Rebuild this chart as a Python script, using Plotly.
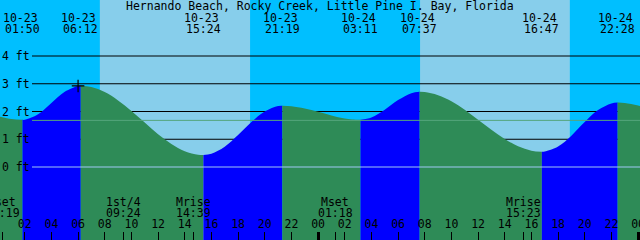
import plotly.graph_objects as go

# ---------------- data ----------------
station = "Hernando Beach, Rocky Creek, Little Pine I. Bay, Florida"

curve_hours = list(range(0, 50))
curve_ft = [1.83, 1.73, 1.70, 1.90, 2.31, 2.71, 2.92, 2.88, 2.70, 2.40,
            2.02, 1.60, 1.18, 0.83, 0.57, 0.44, 0.48, 0.73, 1.15, 1.62,
            2.00, 2.20, 2.19, 2.11, 1.99, 1.86, 1.75, 1.70, 1.78, 2.06,
            2.41, 2.66, 2.70, 2.59, 2.37, 2.06, 1.70, 1.34, 1.01, 0.75,
            0.59, 0.56, 0.74, 1.13, 1.62, 2.05, 2.29, 2.31, 2.22, 2.07]

# high / low tides
tide_dates = ["10-23", "10-23", "10-23", "10-23", "10-24", "10-24", "10-24", "10-24"]
tide_times = ["01:50", "06:12", "15:24", "21:19", "03:11", "07:37", "16:47", "22:28"]
tide_ft = [1.70, 2.93, 0.43, 2.21, 1.70, 2.71, 0.55, 2.32]

# sun
sunrise_dates = ["10-23", "10-24"]
sunrise_times = ["07:38", "07:39"]
sunset_dates = ["10-23", "10-24"]
sunset_times = ["18:54", "18:53"]

# moon events
moon_labels = ["Mset", "1st/4", "Mrise", "Mset", "Mrise"]
moon_dates = ["10-23", "10-23", "10-23", "10-24", "10-24"]
moon_times = ["00:19", "09:24", "14:39", "01:18", "15:23"]

# mean sea level, depth lines and marker
msl_ft = 1.68
level_ft = [0, 1, 2, 3, 4]
level_labels = ["0 ft", "1 ft", "2 ft", "3 ft", "4 ft"]
mark_date, mark_time, mark_ft = "10-23", "06:00", 2.92

hour_ticks = list(range(0, 49, 2))
hour_labels = ["%02d" % (h % 24) for h in hour_ticks]
day_ticks = [0, 24, 48]


def to_hours(date, hm):
    day = int(date.split("-")[1]) - 23
    hh, mm = hm.split(":")
    return day * 24 + int(hh) + int(mm) / 60.0


tide_h = [to_hours(d, t) for d, t in zip(tide_dates, tide_times)]
moon_h = [to_hours(d, t) for d, t in zip(moon_dates, moon_times)]
rise_h = [to_hours(d, t) for d, t in zip(sunrise_dates, sunrise_times)]
set_h = [to_hours(d, t) for d, t in zip(sunset_dates, sunset_times)]
mark_h = to_hours(mark_date, mark_time)

# ---------------- style ----------------
FONT = dict(family="DejaVu Sans Mono", size=11.5, color="black")
NIGHT = "#00BFFF"
DAY = "#87CEEB"
FLOOD = "#0000FF"
EBB = "#2E8B57"
X0 = 0.145
XR = [X0, X0 + 48]
PXFT = 27.75
YR = [-(240 - 167) / PXFT, 167 / PXFT]
YBOT = YR[0] - 0.5

fig = go.Figure()

# merge hourly readings with the extremes
pts = sorted(list(zip(curve_hours, curve_ft)) + list(zip(tide_h, tide_ft)))
bounds = [curve_hours[0]] + tide_h + [curve_hours[-1]]
for a, b in zip(bounds[:-1], bounds[1:]):
    seg = [p for p in pts if a - 1e-9 <= p[0] <= b + 1e-9]
    xs = [p[0] for p in seg]
    ys = [p[1] for p in seg]
    color = FLOOD if ys[-1] > ys[0] else EBB
    fig.add_trace(go.Scatter(x=[xs[0], xs[-1]], y=[YBOT, YBOT], mode="lines",
                             line=dict(width=0), hoverinfo="skip"))
    fig.add_trace(go.Scatter(x=xs, y=ys, mode="lines", fill="tonexty",
                             fillcolor=color, line=dict(width=0, shape="spline"),
                             hoverinfo="skip"))

# "+" marker
fig.add_trace(go.Scatter(x=[mark_h], y=[mark_ft], mode="markers",
                         marker=dict(symbol="cross-thin", size=9,
                                     line=dict(color="black", width=1.2))))

# hour labels
fig.add_trace(go.Scatter(x=hour_ticks, y=[225] * len(hour_ticks), yaxis="y2",
                         mode="text", text=hour_labels, textfont=FONT,
                         textposition="middle center", cliponaxis=False))
# helper traces for the tick axes
fig.add_trace(go.Scatter(x=moon_h, y=[None] * len(moon_h), xaxis="x2", mode="markers"))
fig.add_trace(go.Scatter(x=day_ticks, y=[None] * len(day_ticks), xaxis="x3", mode="markers"))

shapes = []
# daylight bands
for r, s in zip(rise_h, set_h):
    shapes.append(dict(type="rect", xref="x", yref="paper", x0=r, x1=s, y0=0, y1=1,
                       fillcolor=DAY, line=dict(width=0), layer="below"))
for lv in level_ft[1:]:
    shapes.append(dict(type="line", xref="paper", yref="y", x0=0.05, x1=1, y0=lv, y1=lv,
                       line=dict(color="black", width=1), layer="below"))
shapes.append(dict(type="line", xref="paper", yref="y", x0=0.05, x1=1,
                   y0=level_ft[0], y1=level_ft[0],
                   line=dict(color="rgb(160,200,245)", width=1), layer="above"))
shapes.append(dict(type="line", xref="paper", yref="y", x0=0.05, x1=1, y0=msl_ft, y1=msl_ft,
                   line=dict(color="rgb(85,165,125)", width=1), layer="above"))

ann = []
ann.append(dict(text=station, xref="paper", yref="y2", x=0.5, y=6, showarrow=False,
                font=FONT, xanchor="center", yanchor="middle"))
for h, d, t in zip(tide_h, tide_dates, tide_times):
    ann.append(dict(text=d, xref="x", yref="y2", x=h, y=17.5, xshift=-2, showarrow=False,
                    font=FONT, xanchor="center", yanchor="middle"))
    ann.append(dict(text=t, xref="x", yref="y2", x=h, y=29, showarrow=False,
                    font=FONT, xanchor="center", yanchor="middle"))
for h, lab, t in zip(moon_h, moon_labels, moon_times):
    ann.append(dict(text=lab, xref="x", yref="y2", x=h, y=201.5, showarrow=False,
                    font=FONT, xanchor="center", yanchor="middle"))
    ann.append(dict(text=t, xref="x", yref="y2", x=h, y=213, showarrow=False,
                    font=FONT, xanchor="center", yanchor="middle"))
for lv, lab in zip(level_ft, level_labels):
    ann.append(dict(text=lab, xref="paper", yref="y", x=0, y=lv, xshift=0, showarrow=False,
                    font=FONT, xanchor="left", yanchor="middle"))

tickax = dict(range=XR, showgrid=False, zeroline=False, showticklabels=False,
              ticks="inside", ticklen=8, tickcolor="black", showline=False,
              tickmode="array", side="bottom", fixedrange=True)

fig.update_layout(
    width=640, height=240, margin=dict(l=0, r=0, t=0, b=0),
    paper_bgcolor=NIGHT, plot_bgcolor=NIGHT, showlegend=False,
    shapes=shapes, annotations=ann,
    xaxis=dict(tickax, tickvals=hour_ticks, tickwidth=1),
    xaxis2=dict(tickax, tickvals=moon_h, tickwidth=1, overlaying="x", anchor="y"),
    xaxis3=dict(tickax, tickvals=day_ticks, tickwidth=3, overlaying="x", anchor="y"),
    yaxis=dict(range=YR, visible=False, fixedrange=True),
    yaxis2=dict(range=[240, 0], visible=False, overlaying="y", fixedrange=True),
)

fig.write_html("out.html")
